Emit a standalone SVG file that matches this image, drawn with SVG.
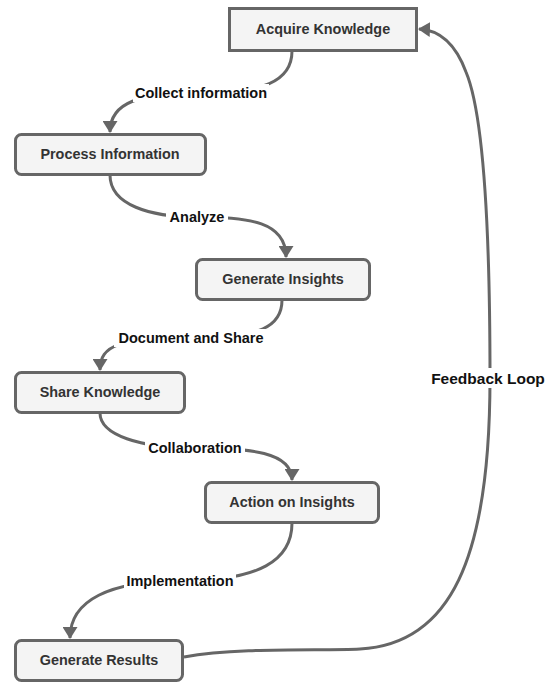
<svg xmlns="http://www.w3.org/2000/svg" width="547" height="683" viewBox="0 0 547 683">
<defs>
<marker id="arr" viewBox="0 0 12 15" refX="11" refY="7.5" markerWidth="12" markerHeight="15" orient="auto" markerUnits="userSpaceOnUse">
<path d="M0,0 L12,7.5 L0,15 z" fill="#666"/>
</marker>
<style>
.node rect{fill:#f4f4f4;stroke:#666;stroke-width:3}
.node text{font-family:"Liberation Sans",Arial,sans-serif;font-weight:bold;font-size:14.4px;fill:#333;text-anchor:middle;dominant-baseline:central}
.edge{fill:none;stroke:#666;stroke-width:3;marker-end:url(#arr)}
.lbl{font-family:"Liberation Sans",Arial,sans-serif;font-weight:bold;font-size:14.5px;fill:#111;text-anchor:middle;dominant-baseline:central}
.bg{fill:#fff}
</style>
</defs>
<rect width="547" height="683" fill="#fff"/>
<g id="connectors">
<path class="edge" d="M292,51 C292,82 262,93 200,93 C140,93 110,102 110,132"/>
<path class="edge" d="M110,175 C110,205 150,217 197,217 C250,217 286,222 286,257"/>
<path class="edge" d="M282,300 C282,326 262,338 190,338 C120,338 100,345 100,370"/>
<path class="edge" d="M100,413 C100,435 140,448 195,448 C250,448 292,452 292,480"/>
<path class="edge" d="M292,523 C292,560 260,581 180,581 C110,581 70,600 70,638"/>
<path class="edge" d="M184,657 C240,647 320,651 360,649 C450,644 490,560 490,378 C490,220 482,110 466,72 C456,45 440,30 419,29"/>
<rect class="bg" x="133" y="84" width="136" height="18"/>
<rect class="bg" x="166" y="208" width="62" height="18"/>
<rect class="bg" x="114" y="329" width="154" height="18"/>
<rect class="bg" x="145" y="439" width="100" height="18"/>
<rect class="bg" x="124" y="572" width="112" height="18"/>
<rect class="bg" x="428" y="368" width="119" height="20"/>
<text class="lbl" x="201" y="93">Collect information</text>
<text class="lbl" x="197" y="217">Analyze</text>
<text class="lbl" x="191" y="338">Document and Share</text>
<text class="lbl" x="195" y="448">Collaboration</text>
<text class="lbl" x="180" y="581">Implementation</text>
<text class="lbl" x="488" y="378" style="font-size:15.5px">Feedback Loop</text>
</g>
<g id="acquire" class="node"><rect x="229.5" y="8.5" width="187" height="42"/><text x="323" y="29">Acquire Knowledge</text></g>
<g id="process" class="node"><rect x="15.5" y="134.5" width="190" height="40" rx="6"/><text x="110" y="154">Process Information</text></g>
<g id="insights" class="node"><rect x="196.5" y="259.5" width="173" height="40" rx="6"/><text x="283" y="279">Generate Insights</text></g>
<g id="share" class="node"><rect x="15.5" y="372.5" width="169" height="40" rx="6"/><text x="100" y="392">Share Knowledge</text></g>
<g id="action" class="node"><rect x="205.5" y="482.5" width="173" height="40" rx="6"/><text x="292" y="502">Action on Insights</text></g>
<g id="results" class="node"><rect x="15.5" y="640.5" width="167" height="40" rx="6"/><text x="99" y="660">Generate Results</text></g>
</svg>
